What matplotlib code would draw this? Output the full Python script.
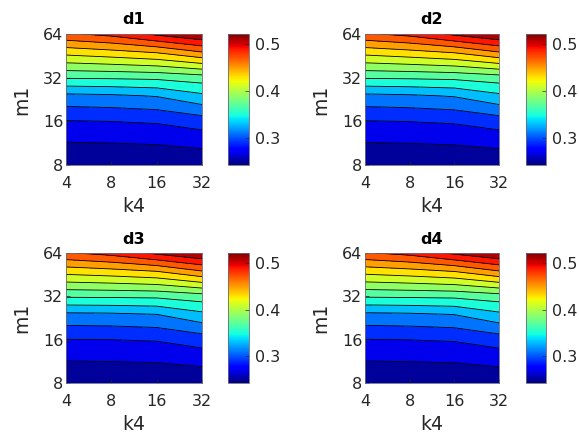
import numpy as np
import matplotlib
matplotlib.use('Agg')
import matplotlib.pyplot as plt
from matplotlib import cm, colors

plt.rcParams['font.family'] = ['DejaVu Sans']

k4 = [4, 8, 16, 32]
m1 = [8, 12, 16, 24, 32, 48, 64]
m1_ticks = [8, 16, 32, 64]

# rows follow m1 (8 -> 64), columns follow k4 (4 -> 32)
d1 = [[0.2435, 0.2435, 0.2436, 0.2437],
      [0.2620, 0.2627, 0.2642, 0.2692],
      [0.2790, 0.2801, 0.2822, 0.2898],
      [0.3150, 0.3170, 0.3212, 0.3357],
      [0.3617, 0.3626, 0.3643, 0.3704],
      [0.4275, 0.4339, 0.4419, 0.4595],
      [0.4770, 0.4860, 0.5040, 0.5190]]
d2 = [[0.2435, 0.2435, 0.2436, 0.2437],
      [0.2622, 0.2630, 0.2645, 0.2692],
      [0.2792, 0.2803, 0.2825, 0.2898],
      [0.3152, 0.3173, 0.3215, 0.3357],
      [0.3618, 0.3628, 0.3646, 0.3704],
      [0.4275, 0.4340, 0.4420, 0.4595],
      [0.4770, 0.4860, 0.5040, 0.5190]]
d3 = [[0.2436, 0.2436, 0.2437, 0.2437],
      [0.2625, 0.2630, 0.2640, 0.2690],
      [0.2795, 0.2800, 0.2815, 0.2895],
      [0.3160, 0.3170, 0.3200, 0.3350],
      [0.3625, 0.3630, 0.3640, 0.3710],
      [0.4290, 0.4340, 0.4410, 0.4600],
      [0.4780, 0.4870, 0.5040, 0.5190]]
d4 = [[0.2436, 0.2436, 0.2437, 0.2437],
      [0.2625, 0.2631, 0.2642, 0.2692],
      [0.2795, 0.2802, 0.2818, 0.2897],
      [0.3158, 0.3172, 0.3205, 0.3355],
      [0.3622, 0.3630, 0.3642, 0.3708],
      [0.4285, 0.4340, 0.4415, 0.4598],
      [0.4780, 0.4865, 0.5040, 0.5190]]

titles = ['d1', 'd2', 'd3', 'd4']
cbar_ticks = [0.3, 0.4, 0.5]
clim = (0.243, 0.522)
levels = np.round(np.arange(0.24, 0.5201, 0.02), 2)

W, H = 579, 441
# panel boxes in pixels: (left, top, width, height) for axes and colorbar
ax_boxes = [(66, 34, 136, 131), (365, 34, 134, 131),
            (66, 253, 136, 130), (365, 253, 134, 130)]
cb_boxes = [(228, 34, 21, 131), (526, 34, 20, 131),
            (228, 253, 21, 130), (526, 253, 20, 130)]


def frac(box):
    l, t, w, h = box
    return [l / W, 1 - (t + h) / H, w / W, h / H]


fig = plt.figure(figsize=(W / 100, H / 100), dpi=100)
norm = colors.Normalize(*clim)
txt = '#262626'
edge = '#6a6a7a'

x = np.log2(k4)
y = np.log2(m1)
X, Y = np.meshgrid(x, y)

for data, title, abox, cbox in zip([d1, d2, d3, d4], titles, ax_boxes, cb_boxes):
    ax = fig.add_axes(frac(abox))
    w, h = abox[2], abox[3]
    Z = np.array(data)
    ax.contourf(X, Y, Z, levels=levels, cmap='jet', norm=norm)
    ax.contour(X, Y, Z, levels=levels, colors='k', linewidths=0.6)
    ax.set_xlim(x[0], x[-1])
    ax.set_ylim(y[0], y[-1])
    ax.set_xticks(x, [str(v) for v in k4])
    ax.set_yticks(np.log2(m1_ticks), [str(v) for v in m1_ticks])
    ax.tick_params(direction='in', length=3, width=0.5, labelsize=11.5,
                   colors=txt)
    ax.tick_params(axis='x', pad=8)
    ax.tick_params(axis='y', pad=2)
    for s in ax.spines.values():
        s.set_color(edge)
        s.set_linewidth(0.6)
    ax.set_xlabel('k4', fontsize=13.5, color=txt, va='center')
    ax.xaxis.set_label_coords(0.5, -42 / h)
    ax.set_ylabel('m1', fontsize=13.5, color=txt, va='center')
    ax.yaxis.set_label_coords(-44 / w, 0.5)
    ax.set_title(title, fontsize=11.5, fontweight='bold', color='k',
                 y=1 + 14 / h, va='center', pad=0)

    cax = fig.add_axes(frac(cbox))
    sm = cm.ScalarMappable(norm=norm, cmap='jet')
    cb = fig.colorbar(sm, cax=cax, ticks=cbar_ticks)
    cb.ax.tick_params(direction='in', length=3, width=0.5, labelsize=11.5,
                      colors=txt, pad=4)
    cb.outline.set_edgecolor(edge)
    cb.outline.set_linewidth(0.6)

fig.savefig('out.png', dpi=100)
